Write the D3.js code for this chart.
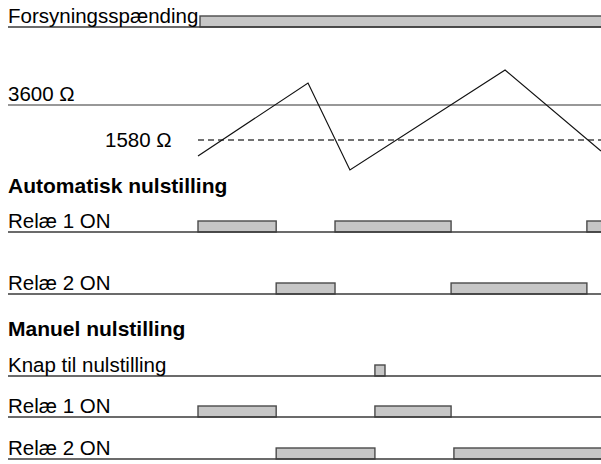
<!DOCTYPE html>
<html>
<head>
<meta charset="utf-8">
<script src="https://cdn.jsdelivr.net/npm/d3@7"></script>
<style>
  html, body { margin: 0; padding: 0; background: #fff; }
  svg text { font-family: "Liberation Sans", Arial, sans-serif; font-size: 20.5px; fill: #000; }
  svg text.head { font-weight: bold; font-size: 21px; }
</style>
</head>
<body>
<svg id="chart" width="601" height="464"></svg>
<script>
// time runs 0..100 across the signal area
const supply = [[0.5, 102]];
const autoRelay1 = [[0, 19.4], [34, 62.8], [96.5, 102]];
const autoRelay2 = [[19.4, 34], [62.8, 96.5]];
const resetButton = [[43.9, 46.4]];
const manRelay1 = [[0, 19.4], [43.9, 62.8]];
const manRelay2 = [[19.4, 43.9], [63.5, 102]];

// resistance curve (Ω) and thresholds
const curveT = [0, 27.3, 37.7, 76.2, 100];
const curveR = [1086, 6030, 782, 8190, 1222];
const upperLimit = 3600;
const lowerLimit = 1580;

const svg = d3.select("#chart");
const W = +svg.attr("width");
const left = 8;

const x = d3.scaleLinear().domain([0, 100]).range([198, 601]);
const y = d3.scaleLog().domain([lowerLimit, upperLimit]).range([140, 105]);

// timing rows
const rows = [
  {label: "Forsyningsspænding", base: 27, data: supply},
  {label: "Relæ 1 ON", base: 232, data: autoRelay1},
  {label: "Relæ 2 ON", base: 294, data: autoRelay2},
  {label: "Knap til nulstilling", base: 376, data: resetButton},
  {label: "Relæ 1 ON", base: 417, data: manRelay1},
  {label: "Relæ 2 ON", base: 459, data: manRelay2}
];
const barH = 11;

const g = svg.append("g").attr("name", "rows");
rows.forEach(r => {
  const row = g.append("g");
  row.selectAll("rect")
    .data(r.data)
    .join("rect")
    .attr("x", d => x(d[0]))
    .attr("y", r.base - barH)
    .attr("width", d => x(d[1]) - x(d[0]))
    .attr("height", barH)
    .attr("fill", "#c6c6c6")
    .attr("stroke", "#4a4a4a")
    .attr("stroke-width", 1.4);
  row.append("line")
    .attr("x1", left).attr("x2", W)
    .attr("y1", r.base).attr("y2", r.base)
    .attr("stroke", "#3a3a3a")
    .attr("stroke-width", 1.6);
  row.append("text")
    .attr("x", left)
    .attr("y", r.base - 4)
    .text(r.label);
});

// thresholds
svg.append("line")
  .attr("x1", left).attr("x2", W)
  .attr("y1", y(upperLimit)).attr("y2", y(upperLimit))
  .attr("stroke", "#333").attr("stroke-width", 1.2);
svg.append("line")
  .attr("x1", x(0)).attr("x2", W)
  .attr("y1", y(lowerLimit)).attr("y2", y(lowerLimit))
  .attr("stroke", "#444").attr("stroke-width", 1.3)
  .attr("stroke-dasharray", "6,4");
svg.append("text").attr("x", left).attr("y", y(upperLimit) - 4).text("3600 Ω");
svg.append("text").attr("x", 105).attr("y", y(lowerLimit) + 7).text("1580 Ω");

// resistance curve
svg.append("path")
  .datum(curveT.map((t, i) => [t, curveR[i]]))
  .attr("d", d3.line().x(d => x(d[0])).y(d => y(d[1])))
  .attr("fill", "none")
  .attr("stroke", "#111")
  .attr("stroke-width", 1.2);

// section titles
svg.append("text").attr("class", "head").attr("x", left).attr("y", 193).text("Automatisk nulstilling");
svg.append("text").attr("class", "head").attr("x", left).attr("y", 336).text("Manuel nulstilling");
</script>
</body>
</html>
